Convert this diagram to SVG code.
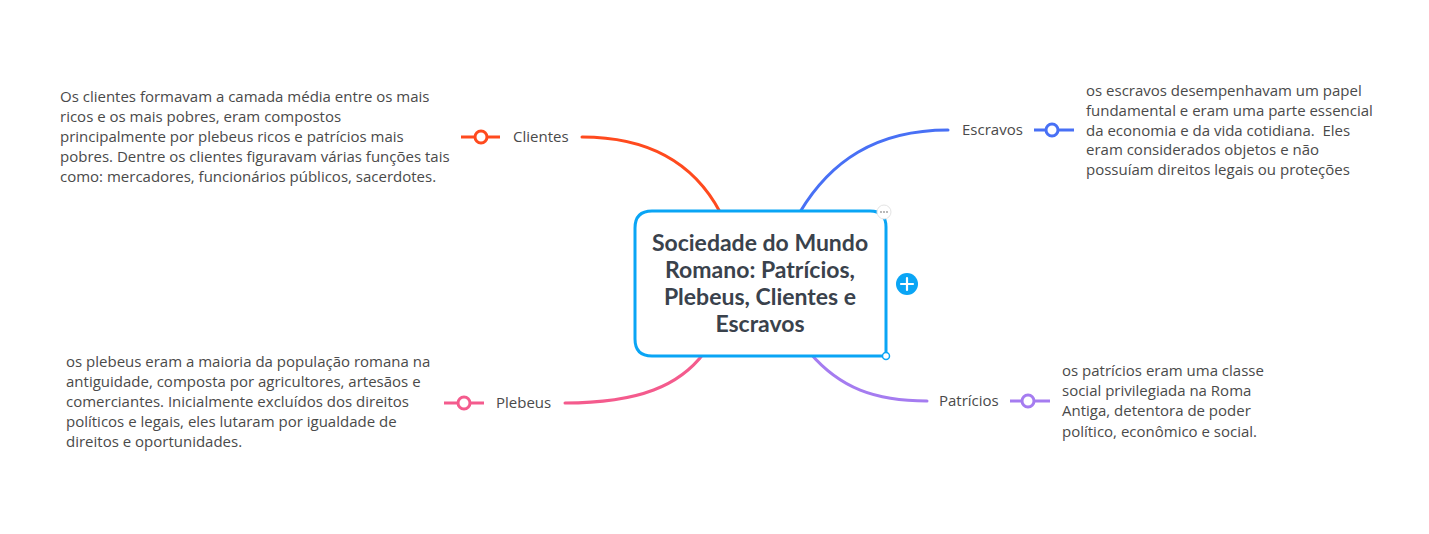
<svg xmlns="http://www.w3.org/2000/svg" width="1429" height="534" viewBox="0 0 1429 534">
<style>
.body{font-family:"Open Sans",Lato,"Liberation Sans",sans-serif;font-size:15px;fill:#4a4a4a}
.lbl{font-family:"Open Sans",Lato,"Liberation Sans",sans-serif;font-size:15px;fill:#4a4a4a}
.title{font-family:Lato,"Open Sans","Liberation Sans",sans-serif;font-size:23px;font-weight:bold;fill:#3a424c}
.conn{fill:none;stroke-width:3;stroke-linecap:round}
.knob{fill:#fff;stroke-width:3}
</style>
<rect width="1429" height="534" fill="#fff"/>
<g id="connectors">
<path class="conn" stroke="#ff4a1e" d="M720,212 C695,165 650,137 582,137"/>
<path class="conn" stroke="#4870f5" d="M800,212 C830,162 875,130 948,130"/>
<path class="conn" stroke="#f45b8d" d="M704,353 C680,385 640,403 565,403"/>
<path class="conn" stroke="#a57cf0" d="M810,353 C840,388 875,401 927,401"/>
</g>
<g id="central">
<path d="M652,211 H870 Q886,211 886,227 V356 H652 Q635,356 635,339 V228 Q635,211 652,211 Z" fill="#fff" stroke="#0aa5f5" stroke-width="3"/>
<circle cx="886" cy="356" r="3.5" fill="#fff" stroke="#0aa5f5" stroke-width="1.5"/>
<circle cx="884" cy="212" r="7" fill="#fff" stroke="#e4e4e4" stroke-width="1"/>
<circle cx="881" cy="212" r="0.9" fill="#999"/><circle cx="884" cy="212" r="0.9" fill="#999"/><circle cx="887" cy="212" r="0.9" fill="#999"/>
<text class="title" text-anchor="middle" x="760" y="251">Sociedade do Mundo</text>
<text class="title" text-anchor="middle" x="760" y="278">Romano: Patrícios,</text>
<text class="title" text-anchor="middle" x="760" y="305">Plebeus, Clientes e</text>
<text class="title" text-anchor="middle" x="760" y="332">Escravos</text>
<circle cx="907" cy="284" r="11" fill="#0aa5f5"/>
<path d="M901,284 H913 M907,278 V290" stroke="#fff" stroke-width="2.2" stroke-linecap="round"/>
</g>
<g id="clientes">
<text class="lbl" x="513" y="142">Clientes</text>
<line x1="461" y1="137" x2="500" y2="137" stroke="#ff4a1e" stroke-width="3"/>
<circle class="knob" cx="481" cy="137" r="6" stroke="#ff4a1e"/>
<text class="body" x="60" y="102">Os clientes formavam a camada média entre os mais</text>
<text class="body" x="60" y="122">ricos e os mais pobres, eram compostos</text>
<text class="body" x="60" y="142">principalmente por plebeus ricos e patrícios mais</text>
<text class="body" x="60" y="162">pobres. Dentre os clientes figuravam várias funções tais</text>
<text class="body" x="60" y="182">como: mercadores, funcionários públicos, sacerdotes.</text>
</g>
<g id="escravos">
<text class="lbl" x="962" y="135">Escravos</text>
<line x1="1034" y1="130" x2="1074" y2="130" stroke="#4870f5" stroke-width="3"/>
<circle class="knob" cx="1052" cy="130" r="6" stroke="#4870f5"/>
<text class="body" x="1086" y="96">os escravos desempenhavam um papel</text>
<text class="body" x="1086" y="116">fundamental e eram uma parte essencial</text>
<text class="body" x="1086" y="136" xml:space="preserve">da economia e da vida cotidiana.  Eles</text>
<text class="body" x="1086" y="155">eram considerados objetos e não</text>
<text class="body" x="1086" y="175">possuíam direitos legais ou proteções</text>
</g>
<g id="plebeus">
<text class="lbl" x="496" y="408">Plebeus</text>
<line x1="444" y1="403" x2="484" y2="403" stroke="#f45b8d" stroke-width="3"/>
<circle class="knob" cx="464" cy="403" r="6" stroke="#f45b8d"/>
<text class="body" x="66" y="367">os plebeus eram a maioria da população romana na</text>
<text class="body" x="66" y="387">antiguidade, composta por agricultores, artesãos e</text>
<text class="body" x="66" y="407">comerciantes. Inicialmente excluídos dos direitos</text>
<text class="body" x="66" y="427">políticos e legais, eles lutaram por igualdade de</text>
<text class="body" x="66" y="447">direitos e oportunidades.</text>
</g>
<g id="patricios">
<text class="lbl" x="939" y="406">Patrícios</text>
<line x1="1010" y1="401" x2="1050" y2="401" stroke="#a57cf0" stroke-width="3"/>
<circle class="knob" cx="1028" cy="401" r="6" stroke="#a57cf0"/>
<text class="body" x="1062" y="376">os patrícios eram uma classe</text>
<text class="body" x="1062" y="396">social privilegiada na Roma</text>
<text class="body" x="1062" y="416">Antiga, detentora de poder</text>
<text class="body" x="1062" y="437">político, econômico e social.</text>
</g>
</svg>
